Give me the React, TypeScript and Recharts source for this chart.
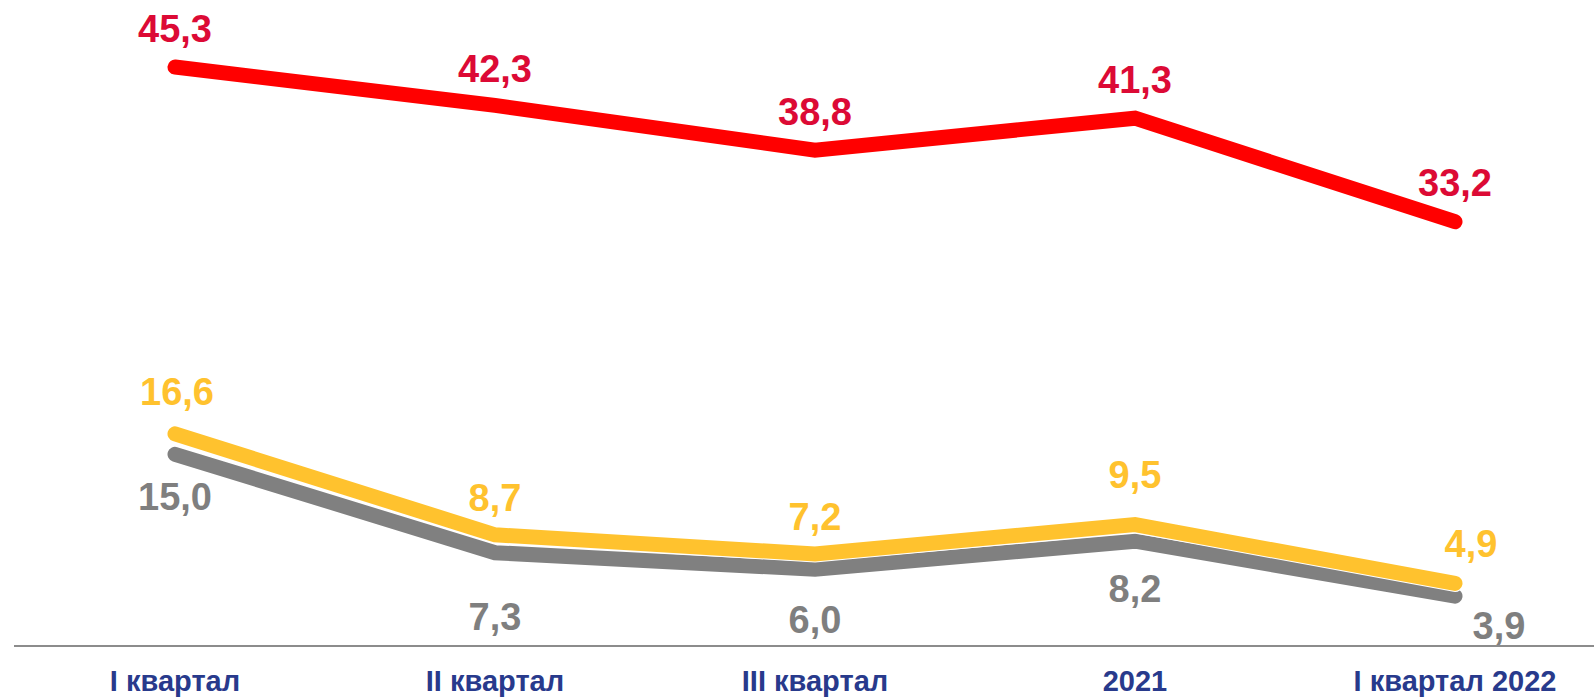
import { LineChart, Line, XAxis, YAxis, LabelList } from "recharts";

const periods = ["I квартал", "II квартал", "III квартал", "2021", "I квартал 2022"];
const redValues = [45.3, 42.3, 38.8, 41.3, 33.2];
const yellowValues = [16.6, 8.7, 7.2, 9.5, 4.9];
const greyValues = [15.0, 7.3, 6.0, 8.2, 3.9];

// label nudges (px) relative to each point
const redNudge = [[0, -39], [0, -37], [0, -39], [0, -39], [0, -39]];
const yellowNudge = [[2, -43], [0, -37], [0, -38], [0, -50], [16, -40]];
const greyNudge = [[0, 42], [0, 64], [0, 50], [0, 47], [44, 29]];

const data = periods.map((p, i) => ({
  period: p,
  red: redValues[i],
  yellow: yellowValues[i],
  grey: greyValues[i],
}));

const FONT = "'Liberation Sans', Arial, sans-serif";

const fmt = (v: number) => v.toFixed(1).replace(".", ",");

function makeLabel(color: string, nudge: number[][]) {
  return (props: any) => {
    const { x, y, value, index } = props;
    const [dx, dy] = nudge[index] || [0, 0];
    const size = 38;
    return (
      <text
        x={x + dx}
        y={y + dy + size * 0.36}
        textAnchor="middle"
        fill={color}
        fontSize={size}
        fontWeight="bold"
        fontFamily={FONT}
      >
        {fmt(value)}
      </text>
    );
  };
}

function PeriodTick(props: any) {
  const { x, y, payload } = props;
  return (
    <text
      x={x}
      y={y + 45}
      textAnchor="middle"
      fill="#283A8C"
      fontSize={29}
      fontWeight="bold"
      fontFamily={FONT}
    >
      {payload.value}
    </text>
  );
}

export default function App() {
  return (
    <div style={{ position: "absolute", left: 0, top: 0, width: 1594, height: 698, background: "#fff" }}>
      <LineChart
        width={1594}
        height={698}
        data={data}
        margin={{ top: 7, right: 0, left: 14, bottom: 0 }}
      >
        <XAxis
          dataKey="period"
          height={52}
          padding={{ left: 161, right: 139 }}
          axisLine={{ stroke: "#8c8c8c", strokeWidth: 2 }}
          tickLine={false}
          tickSize={0}
          tickMargin={0}
          tick={<PeriodTick />}
          interval={0}
        />
        <YAxis hide domain={[0, 50]} />
        <Line
          dataKey="grey"
          type="linear"
          stroke="#808080"
          strokeWidth={15}
          strokeLinecap="round"
          dot={false}
          isAnimationActive={false}
        >
          <LabelList dataKey="grey" content={makeLabel("#7f7f7f", greyNudge)} />
        </Line>
        <Line
          dataKey="yellow"
          type="linear"
          stroke="#ffffff"
          strokeWidth={17}
          strokeLinecap="round"
          dot={false}
          isAnimationActive={false}
        />
        <Line
          dataKey="yellow"
          type="linear"
          stroke="#FFC22E"
          strokeWidth={15}
          strokeLinecap="round"
          dot={false}
          isAnimationActive={false}
        >
          <LabelList dataKey="yellow" content={makeLabel("#FFC22E", yellowNudge)} />
        </Line>
        <Line
          dataKey="red"
          type="linear"
          stroke="#FF0000"
          strokeWidth={15}
          strokeLinecap="round"
          dot={false}
          isAnimationActive={false}
        >
          <LabelList dataKey="red" content={makeLabel("#DC0A35", redNudge)} />
        </Line>
      </LineChart>
    </div>
  );
}
